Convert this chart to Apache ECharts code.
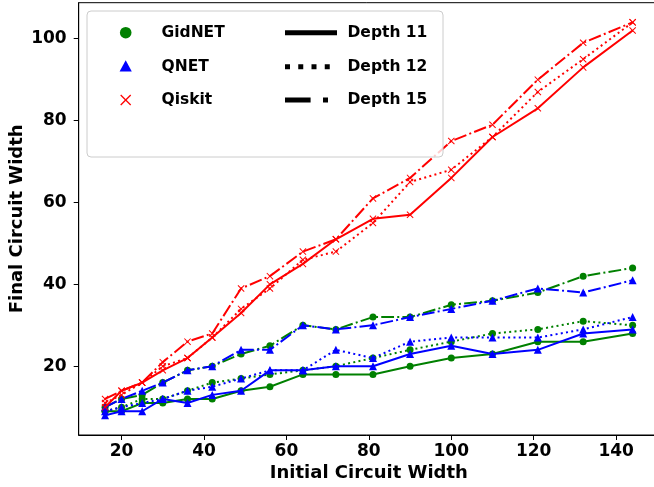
<!DOCTYPE html>
<html>
<head>
<meta charset="utf-8">
<script src="https://cdn.jsdelivr.net/npm/echarts@6/dist/echarts.min.js"></script>
<style>
  html, body { margin: 0; padding: 0; background: #fff; }
  #chart { width: 654px; height: 487px; }
</style>
</head>
<body>
<div id="chart"></div>
<script>
// Initial circuit widths (x axis)
const initialWidths = [16, 20, 25, 30, 36, 42, 49, 56, 64, 72, 81, 90, 100, 110, 121, 132, 144];

// Final circuit widths per algorithm and depth
const gidnetDepth11 = [9, 9, 11, 11, 12, 12, 14, 15, 18, 18, 18, 20, 22, 23, 26, 26, 28];
const gidnetDepth12 = [9, 10, 12, 12, 14, 16, 17, 18, 19, 20, 22, 24, 26, 28, 29, 31, 30];
const gidnetDepth15 = [10, 12, 13, 16, 19, 20, 23, 25, 30, 29, 32, 32, 35, 36, 38, 42, 44];

const qnetDepth11 = [8, 9, 9, 12, 11, 13, 14, 19, 19, 20, 20, 23, 25, 23, 24, 28, 29];
const qnetDepth12 = [9, 10, 11, 12, 14, 15, 17, 19, 19, 24, 22, 26, 27, 27, 27, 29, 32];
const qnetDepth15 = [10, 12, 14, 16, 19, 20, 24, 24, 30, 29, 30, 32, 34, 36, 39, 38, 41];

const qiskitDepth11 = [10, 14, 16, 19, 22, 27, 33, 40, 45, 51, 56, 57, 66, 76, 83, 93, 102];
const qiskitDepth12 = [11, 13, 16, 20, 22, 27, 34, 39, 46, 48, 55, 65, 68, 76, 87, 95, 104];
const qiskitDepth15 = [12, 14, 16, 21, 26, 28, 39, 42, 48, 51, 61, 66, 75, 79, 90, 99, 104];

// Tick labels
const xTicks = [20, 40, 60, 80, 100, 120, 140];
const yTicks = [20, 40, 60, 80, 100];

const algorithms = ['GidNET', 'QNET', 'Qiskit'];
const depthNames = ['Depth 11', 'Depth 12', 'Depth 15'];

const FONT = 'DejaVu Sans';
const LW = 2;
const crossPath = 'path://M1,0 L5,4 L9,0 L10,1 L6,5 L10,9 L9,10 L5,6 L1,10 L0,9 L4,5 L0,1 Z';

const algoStyle = {
  GidNET: { color: '#008000', symbol: 'circle', size: 7 },
  QNET: { color: '#0000ff', symbol: 'triangle', size: 8 },
  Qiskit: { color: '#ff0000', symbol: crossPath, size: 7 }
};
const dashFor = {
  'Depth 11': 'solid',
  'Depth 12': [LW * 1, LW * 1.65],
  'Depth 15': [LW * 6.4, LW * 1.6, LW * 1, LW * 1.6]
};

const table = {
  GidNET: [gidnetDepth11, gidnetDepth12, gidnetDepth15],
  QNET: [qnetDepth11, qnetDepth12, qnetDepth15],
  Qiskit: [qiskitDepth11, qiskitDepth12, qiskitDepth15]
};

const series = [];
algorithms.forEach(function (algo, ai) {
  depthNames.forEach(function (dn, di) {
    const st = algoStyle[algo];
    series.push({
      name: algo + ' ' + dn,
      type: 'line',
      data: initialWidths.map(function (x, i) { return [x, table[algo][di][i]]; }),
      symbol: st.symbol,
      symbolSize: st.size,
      showSymbol: true,
      z: 2 + ai,
      animation: false,
      lineStyle: { color: st.color, width: LW, type: dashFor[dn], cap: 'butt' },
      itemStyle: { color: st.color, borderWidth: 0 }
    });
  });
});

// Legend drawn as graphic elements: markers for algorithms, line styles for depths
const legendRows = [32.7, 66.7, 100];
const legendGraphics = [
  {
    type: 'rect', z: 100,
    shape: { x: 87, y: 11, width: 356, height: 146, r: 4 },
    style: { fill: 'rgba(255,255,255,0.8)', stroke: '#cccccc', lineWidth: 1 }
  },
  {
    type: 'circle', z: 101,
    shape: { cx: 125.7, cy: legendRows[0], r: 5.8 },
    style: { fill: '#008000' }
  },
  {
    type: 'polygon', z: 101,
    shape: { points: [[125.7, legendRows[1] - 6.5], [131.8, legendRows[1] + 4.8], [119.6, legendRows[1] + 4.8]] },
    style: { fill: '#0000ff' }
  },
  {
    type: 'polyline', z: 101,
    shape: { points: [[120.7, legendRows[2] - 5], [130.7, legendRows[2] + 5]] },
    style: { stroke: '#ff0000', lineWidth: 1.3, fill: null }
  },
  {
    type: 'polyline', z: 101,
    shape: { points: [[130.7, legendRows[2] - 5], [120.7, legendRows[2] + 5]] },
    style: { stroke: '#ff0000', lineWidth: 1.3, fill: null }
  }
];
algorithms.forEach(function (algo, i) {
  legendGraphics.push({
    type: 'text', z: 101, x: 161.5, y: legendRows[i],
    style: { text: algo, font: 'bold 15.5px "' + FONT + '"', fill: '#000', verticalAlign: 'middle', align: 'left' }
  });
});
const legendDash = ['solid', [5, 8.25], [25.6, 12.4, 5, 12.4]];
depthNames.forEach(function (dn, i) {
  legendGraphics.push({
    type: 'line', z: 101,
    shape: { x1: 285, y1: legendRows[i], x2: 337, y2: legendRows[i] },
    style: { stroke: '#000', lineWidth: 5, lineDash: legendDash[i] === 'solid' ? null : legendDash[i], lineCap: 'butt' }
  });
  legendGraphics.push({
    type: 'text', z: 101, x: 347.5, y: legendRows[i],
    style: { text: dn, font: 'bold 15.5px "' + FONT + '"', fill: '#000', verticalAlign: 'middle', align: 'left' }
  });
});

const chart = echarts.init(document.getElementById('chart'), null, { renderer: 'canvas' });
chart.setOption({
  animation: false,
  backgroundColor: '#fff',
  grid: {
    left: 78.7, top: 2.7, right: -5, bottom: 52,
    containLabel: false, outerBoundsMode: 'none',
    show: true, borderColor: '#000', borderWidth: 1, backgroundColor: 'transparent'
  },
  xAxis: {
    type: 'value', min: 9.6, max: 150.4,
    name: 'Initial Circuit Width', nameLocation: 'middle', nameGap: 29, nameMoveOverlap: false,
    nameTextStyle: { fontFamily: FONT, fontWeight: 'bold', fontSize: 18, color: '#000' },
    axisLine: { show: true, onZero: false, lineStyle: { color: '#000', width: 1 } },
    axisTick: { show: true, inside: false, length: 5, customValues: xTicks, lineStyle: { color: '#000', width: 1 } },
    axisLabel: { customValues: xTicks, margin: 8, fontFamily: FONT, fontWeight: 'bold', fontSize: 17, color: '#000' },
    splitLine: { show: false }
  },
  yAxis: {
    type: 'value', min: 3.2, max: 108.8,
    name: 'Final Circuit Width', nameLocation: 'middle', nameGap: 52, nameMoveOverlap: false,
    nameTextStyle: { fontFamily: FONT, fontWeight: 'bold', fontSize: 18, color: '#000' },
    axisLine: { show: true, onZero: false, lineStyle: { color: '#000', width: 1 } },
    axisTick: { show: true, inside: false, length: 5, customValues: yTicks, lineStyle: { color: '#000', width: 1 } },
    axisLabel: { customValues: yTicks, margin: 12, fontFamily: FONT, fontWeight: 'bold', fontSize: 17, color: '#000' },
    splitLine: { show: false }
  },
  series: series,
  graphic: legendGraphics
});
</script>
</body>
</html>
